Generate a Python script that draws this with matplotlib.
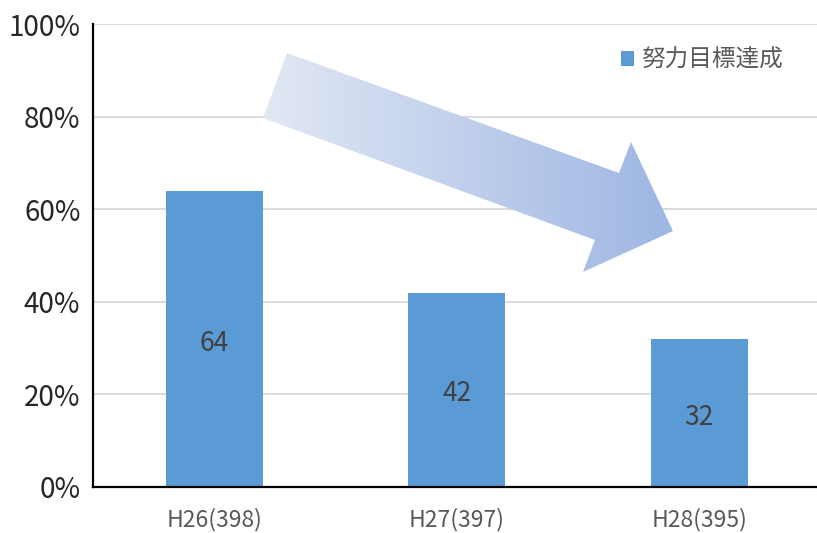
import matplotlib
matplotlib.use("Agg")
import matplotlib.pyplot as plt
import numpy as np
from matplotlib.patches import Polygon
from matplotlib.colors import LinearSegmentedColormap

plt.rcParams['font.family'] = ['Noto Sans CJK JP', 'DejaVu Sans']

categories = ["H26(398)", "H27(397)", "H28(395)"]
values = [64, 42, 32]
series_name = "努力目標達成"
yticks = [0, 20, 40, 60, 80, 100]

W, H = 817, 533
fig = plt.figure(figsize=(W / 100, H / 100), dpi=100)
ax_left, ax_bottom, ax_top = 93, 46, 24
ax = fig.add_axes([ax_left / W, ax_bottom / H, (W - ax_left) / W, (H - ax_top - ax_bottom) / H])

bar_color = "#5b9bd5"
bars = ax.bar(range(len(categories)), values, width=0.4, color=bar_color,
              label=series_name, zorder=3)

ax.set_ylim(0, 100)
ax.set_xlim(-0.5, 2.5 - 3.5 / 242.5)
ax.set_yticks(yticks)
ax.set_yticklabels([f"{t}%" for t in yticks], fontsize=20, color="#262626")
ax.set_xticks(range(len(categories)))
ax.set_xticklabels(categories, fontsize=16.5, color="#595959")
ax.tick_params(axis='both', length=0)
ax.tick_params(axis='y', pad=9)
ax.tick_params(axis='x', pad=15)

ax.grid(axis='y', color="#d9d9d9", linewidth=1.3, zorder=0)
for s in ("top", "right"):
    ax.spines[s].set_visible(False)
for s in ("left", "bottom"):
    ax.spines[s].set_color("black")
    ax.spines[s].set_linewidth(1.6)
    ax.spines[s].set_zorder(4)

for i, v in enumerate(values):
    ax.annotate(f"{v}", xy=(i, v / 2), xytext=(0, -3), textcoords='offset points',
                ha='center', va='center', fontsize=19, color="#404040", zorder=5)

# Decorative downward-trend arrow with a horizontal gradient fill
def to_data(px, py):
    return ((px - ax_left) / 242.5 - 0.5, (H - ax_bottom - py) / (H - ax_top - ax_bottom) * 100)

arrow_px = [(287, 53), (263, 118), (595, 240), (583, 272), (673, 231),
            (631, 142), (619, 173)]
arrow_pts = np.array([to_data(*p) for p in arrow_px])
poly = Polygon(arrow_pts, closed=True, facecolor='none', edgecolor='none',
               transform=ax.transData)
ax.add_patch(poly)
cmap = LinearSegmentedColormap.from_list("arrow", ["#e2e8f4", "#9db6e3"])
x0, x1 = arrow_pts[:, 0].min(), arrow_pts[:, 0].max()
y0, y1 = arrow_pts[:, 1].min(), arrow_pts[:, 1].max()
grad = np.linspace(0, 1, 256).reshape(1, -1)
im = ax.imshow(grad, cmap=cmap, extent=[x0, x1, y0, y1], aspect='auto',
               zorder=6, interpolation='bilinear')
im.set_clip_path(poly)
ax.set_xlim(-0.5, 2.5 - 3.5 / 242.5)
ax.set_ylim(0, 100)

leg = ax.legend(loc='upper right', bbox_to_anchor=(0.982, 0.992), frameon=False,
                fontsize=17, handlelength=0.55, handleheight=0.55, handletextpad=0.3,
                labelcolor="#595959")

fig.savefig("out.png", dpi=100)
